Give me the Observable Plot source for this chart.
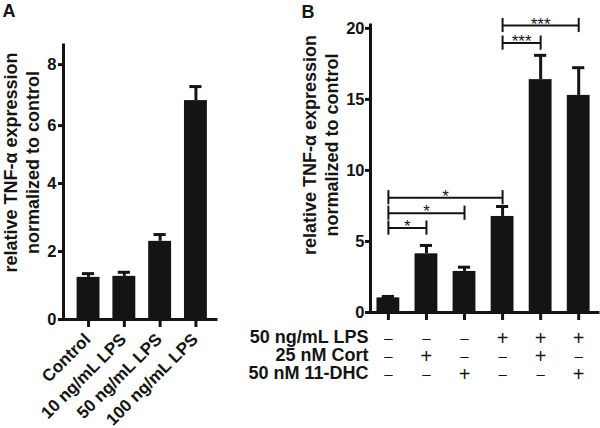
<!DOCTYPE html>
<html><head><meta charset="utf-8">
<script src="https://cdn.jsdelivr.net/npm/d3@7"></script>
<script src="https://cdn.jsdelivr.net/npm/@observablehq/plot@0.6"></script>
<style>
html,body{margin:0;padding:0;background:#fff;}
#wrap{position:relative;width:600px;height:428px;overflow:hidden;background:#fff;}
#a,#b{position:absolute;top:0;}
#a{left:0;} #b{left:290px;}
</style></head><body>
<div id="wrap"><div id="a"></div><div id="b"></div></div>
<script>
// ---- Panel A data ----
const catsA = ["Control", "10 ng/mL LPS", "50 ng/mL LPS", "100 ng/mL LPS"];
const meanA = [1.24, 1.27, 2.30, 6.82];
const semA = [0.11, 0.12, 0.20, 0.46];
const yTicksA = [0, 2, 4, 6, 8];

// ---- Panel B data ----
const meanB = [1.03, 4.13, 2.89, 6.76, 16.39, 15.28];
const semB = [0.10, 0.59, 0.30, 0.70, 1.71, 1.95];
const lpsB = ["-", "-", "-", "+", "+", "+"];
const cortB = ["-", "+", "-", "-", "+", "-"];
const dhcB = ["-", "-", "+", "-", "-", "+"];
const rowLabelsB = ["50 ng/mL LPS", "25 nM Cort", "50 nM 11-DHC"];
const yTicksB = [0, 5, 10, 15, 20];
const bracketFrom = [0, 0, 0, 3, 3];
const bracketTo = [1, 2, 3, 4, 5];
const bracketLevel = [5.94, 6.99, 8.08, 18.96, 20.2];
const bracketStars = ["*", "*", "*", "***", "***"];

const yLabel1 = "relative TNF-α expression";
const yLabel2 = "normalized to control";

const FONT = "'Liberation Sans', Arial, Helvetica, sans-serif";
const INK = "#141414";

// ---- Panel A ----
// The reference's left axis is not evenly spaced; a piecewise-linear scale
// transform reproduces its tick spacing (knots: data value -> linear units).
const knotsA = d3.scaleLinear().domain([0, 2, 4, 6, 8, 8.6]).range([0, 2.133, 4.267, 6.086, 8, 8.6]);
const dataA = catsA.map((c, i) => ({i, cat: c, mean: meanA[i], top: meanA[i] + semA[i]}));
const xDomA = [-0.70, 3.575];
const yTopA = 8.6;
const halfA = 0.32, capA = 0.17;

const plotA = Plot.plot({
  width: 220, height: 428,
  marginLeft: 63, marginRight: 4, marginTop: 45, marginBottom: 109,
  style: {fontFamily: FONT, fontWeight: "bold", fontSize: "16px", color: INK, background: "transparent", overflow: "visible"},
  x: {domain: xDomA, axis: null},
  y: {domain: [0, yTopA], transform: v => knotsA(v), axis: null},
  marks: [
    Plot.rect(dataA, {x1: d => d.i - halfA, x2: d => d.i + halfA, y1: 0, y2: "mean", fill: INK}),
    Plot.ruleX(dataA, {x: "i", y1: "mean", y2: "top", stroke: INK, strokeWidth: 3}),
    Plot.ruleY(dataA, {y: "top", x1: d => d.i - capA, x2: d => d.i + capA, stroke: INK, strokeWidth: 3}),
    Plot.axisY({ticks: yTicksA.map(v => knotsA(v)), tickFormat: v => String(Math.round(knotsA.invert(v))),
      tickSize: 5, tickPadding: 2, strokeWidth: 3, label: null, fontSize: 16.5}),
    Plot.axisX({ticks: dataA.map(d => d.i), tickSize: 8, strokeWidth: 3, tickFormat: () => "", label: null}),
    Plot.ruleX([xDomA[0]], {y1: 0, y2: yTopA, stroke: INK, strokeWidth: 3, strokeLinecap: "square"}),
    Plot.ruleY([0], {x1: xDomA[0], x2: xDomA[1], stroke: INK, strokeWidth: 3, strokeLinecap: "square"}),
    Plot.text(dataA, {x: "i", text: "cat", frameAnchor: "bottom", rotate: -45, textAnchor: "end", lineAnchor: "bottom", dx: 3, dy: 21, fontSize: 17}),
    Plot.text([yLabel1], {frameAnchor: "left", rotate: -90, textAnchor: "middle", lineAnchor: "bottom", dx: -47, dy: -20, fontSize: 18}),
    Plot.text([yLabel2], {frameAnchor: "left", rotate: -90, textAnchor: "middle", lineAnchor: "bottom", dx: -25, dy: -20, fontSize: 18}),
    Plot.text(["A"], {frameAnchor: "top-left", textAnchor: "start", lineAnchor: "bottom", dx: -61, dy: -29, fontSize: 18})
  ]
});
document.getElementById("a").appendChild(plotA);

// ---- Panel B ----
const dataB = meanB.map((m, i) => ({i, mean: m, top: m + semB[i], lps: lpsB[i], cort: cortB[i], dhc: dhcB[i]}));
const brackets = bracketFrom.map((f, k) => ({from: f, to: bracketTo[k], level: bracketLevel[k], stars: bracketStars[k]}));
const xDomB = [-0.47, 5.52];
const yTopB = 20.2;
const halfB = 0.30, capB = 0.16, endB = 0.5;
const rowKeys = ["lps", "cort", "dhc"];
const rowDy = [25.7, 44, 62];

const symbolMarks = rowKeys.map((key, r) => Plot.text(dataB, {
  x: "i", text: d => d[key] === "+" ? "+" : "–", frameAnchor: "bottom", lineAnchor: "middle",
  dy: rowDy[r], fontWeight: "normal", fontSize: d => d[key] === "+" ? 20 : 15
}));
const rowLabelMarks = rowLabelsB.map((lab, r) => Plot.text([lab], {
  frameAnchor: "bottom-left", textAnchor: "end", lineAnchor: "middle", dx: -2, dy: rowDy[r] - 1, fontSize: 18
}));

const plotB = Plot.plot({
  width: 310, height: 428,
  marginLeft: 80, marginRight: 2, marginTop: 25, marginBottom: 116,
  style: {fontFamily: FONT, fontWeight: "bold", fontSize: "16px", color: INK, background: "transparent", overflow: "visible"},
  x: {domain: xDomB, axis: null},
  y: {domain: [0, yTopB], axis: null},
  marks: [
    Plot.rect(dataB, {x1: d => d.i - halfB, x2: d => d.i + halfB, y1: 0, y2: "mean", fill: INK}),
    Plot.ruleX(dataB, {x: "i", y1: "mean", y2: "top", stroke: INK, strokeWidth: 3}),
    Plot.ruleY(dataB, {y: "top", x1: d => d.i - capB, x2: d => d.i + capB, stroke: INK, strokeWidth: 3}),
    Plot.ruleY(brackets, {y: "level", x1: "from", x2: "to", stroke: INK, strokeWidth: 2}),
    Plot.ruleX(brackets, {x: "from", y1: d => d.level - endB, y2: d => d.level + endB, stroke: INK, strokeWidth: 2}),
    Plot.ruleX(brackets, {x: "to", y1: d => d.level - endB, y2: d => d.level + endB, stroke: INK, strokeWidth: 2}),
    Plot.text(brackets, {x: d => (d.from + d.to) / 2, y: "level", text: "stars", lineAnchor: "bottom", dy: 4, fontSize: 17, fontWeight: "normal"}),
    Plot.axisY({ticks: yTicksB, tickSize: 5, tickPadding: 1, strokeWidth: 3, label: null, fontSize: 16.5}),
    Plot.axisX({ticks: dataB.map(d => d.i), tickSize: 8, strokeWidth: 3, tickFormat: () => "", label: null}),
    Plot.ruleX([xDomB[0]], {y1: 0, y2: yTopB, stroke: INK, strokeWidth: 3, strokeLinecap: "square"}),
    Plot.ruleY([0], {x1: xDomB[0], x2: xDomB[1], stroke: INK, strokeWidth: 3, strokeLinecap: "square"}),
    ...symbolMarks,
    ...rowLabelMarks,
    Plot.text([yLabel1], {frameAnchor: "left", rotate: -90, textAnchor: "middle", lineAnchor: "bottom", dx: -55, dy: -24, fontSize: 18}),
    Plot.text([yLabel2], {frameAnchor: "left", rotate: -90, textAnchor: "middle", lineAnchor: "bottom", dx: -33, dy: -24, fontSize: 18}),
    Plot.text(["B"], {frameAnchor: "top-left", textAnchor: "start", lineAnchor: "bottom", dx: -69, dy: -8, fontSize: 18})
  ]
});
document.getElementById("b").appendChild(plotB);
</script>
</body></html>
